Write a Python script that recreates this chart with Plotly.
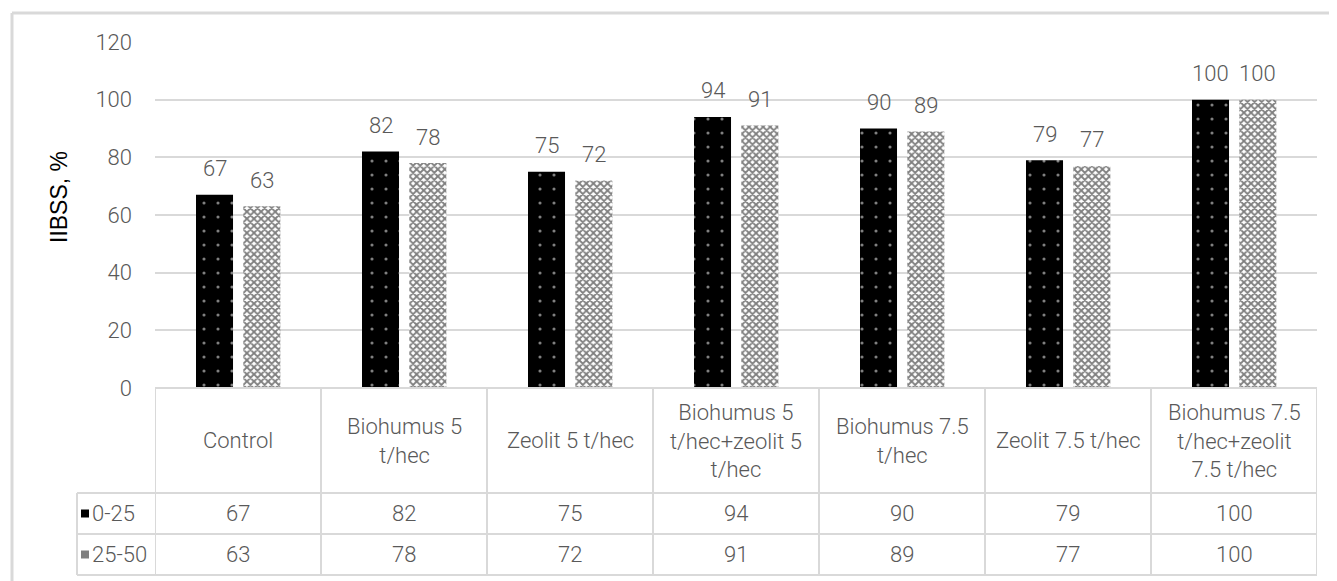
import plotly.graph_objects as go

categories = ["Control", "Biohumus 5<br>t/hec", "Zeolit 5 t/hec",
              "Biohumus 5<br>t/hec+zeolit 5<br>t/hec", "Biohumus 7.5<br>t/hec",
              "Zeolit 7.5 t/hec", "Biohumus 7.5<br>t/hec+zeolit<br>7.5 t/hec"]
series_names = ["0-25", "25-50"]
values_0_25 = [67, 82, 75, 94, 90, 79, 100]
values_25_50 = [63, 78, 72, 91, 89, 77, 100]
y_ticks = [0, 20, 40, 60, 80, 100, 120]

FONT = "Roboto"
GREY = "#595959"
LINE = "#d9d9d9"
FS = 22
WT = 300

PAGE = 8  # default body margin of the html page
W, H = 1337 - PAGE, 581 - PAGE
L, R, T, B = 155 - PAGE, 1337 - 1317, 42 - PAGE, 581 - 388
PW, PH = W - L - R, H - T - B

def px(x):
    return (x - PAGE - L) / PW

def py(y):
    return (H - B - (y - PAGE)) / PH

def tf(size=FS):
    return dict(family=FONT, size=size, color=GREY, weight=WT)

bar_w = 0.223
offsets = [-0.253, 0.032]
xs = list(range(len(categories)))

fig = go.Figure()
fig.add_trace(go.Bar(
    x=xs, y=values_0_25, name=series_names[0], width=bar_w, offset=offsets[0],
    marker=dict(color="black", line=dict(width=0),
                pattern=dict(shape=".", fgcolor="white", bgcolor="black", size=14, solidity=0.04)),
))
fig.add_trace(go.Bar(
    x=xs, y=values_25_50, name=series_names[1], width=bar_w, offset=offsets[1],
    marker=dict(color="white", line=dict(width=0),
                pattern=dict(shape="x", fgcolor="black", bgcolor="white", size=5, solidity=0.6)),
))

ann = []
shapes = []
for vals, off in [(values_0_25, offsets[0]), (values_25_50, offsets[1])]:
    for i, v in enumerate(vals):
        ann.append(dict(x=i + off + bar_w / 2, y=v, xref="x", yref="y", text=str(v),
                        showarrow=False, xanchor="center", yanchor="middle", yshift=26, font=tf()))

y_top = py(388)
y_hdr = py(493)
y_r1 = py(534)
y_r2 = py(575)
x_leg = px(77)

for i, c in enumerate(categories):
    ann.append(dict(x=i, y=(y_top + y_hdr) / 2, xref="x", yref="paper", text=c, showarrow=False,
                    align="center", xanchor="center", yanchor="middle", font=tf()))
    ann.append(dict(x=i, y=(y_hdr + y_r1) / 2, xref="x", yref="paper", text=str(values_0_25[i]),
                    showarrow=False, xanchor="center", yanchor="middle", font=tf()))
    ann.append(dict(x=i, y=(y_r1 + y_r2) / 2, xref="x", yref="paper", text=str(values_25_50[i]),
                    showarrow=False, xanchor="center", yanchor="middle", font=tf()))

for name, (ya, yb) in zip(series_names, [(y_hdr, y_r1), (y_r1, y_r2)]):
    ann.append(dict(x=px(90), y=(ya + yb) / 2, xref="paper", yref="paper", text=name, showarrow=False,
                    xanchor="left", yanchor="middle", font=tf()))
sq = 8
for col, (ya, yb) in zip(["black", "#7f7f7f"], [(y_hdr, y_r1), (y_r1, y_r2)]):
    yc = (ya + yb) / 2
    shapes.append(dict(type="rect", xref="paper", yref="paper",
                       x0=px(81), x1=px(81 + sq), y0=yc - (sq / 2) / PH, y1=yc + (sq / 2) / PH,
                       fillcolor=col, line=dict(width=0)))

lw = 2
for i in range(len(categories) + 1):
    shapes.append(dict(type="line", xref="x", yref="paper", x0=i - 0.5, x1=i - 0.5,
                       y0=y_top, y1=y_r2, line=dict(color=LINE, width=lw)))
shapes.append(dict(type="line", xref="paper", yref="paper", x0=x_leg, x1=x_leg,
                   y0=y_hdr, y1=y_r2, line=dict(color=LINE, width=lw)))
shapes.append(dict(type="line", xref="paper", yref="paper", x0=0, x1=1,
                   y0=y_top, y1=y_top, line=dict(color=LINE, width=lw)))
for yy in [y_hdr, y_r1, y_r2]:
    shapes.append(dict(type="line", xref="paper", yref="paper", x0=x_leg, x1=1,
                       y0=yy, y1=yy, line=dict(color=LINE, width=lw)))

shapes.append(dict(type="line", xref="paper", yref="paper", x0=px(12), x1=px(12),
                   y0=py(600), y1=py(13), line=dict(color=LINE, width=3)))
shapes.append(dict(type="line", xref="paper", yref="paper", x0=px(12), x1=px(1360),
                   y0=py(13), y1=py(13), line=dict(color=LINE, width=3)))

ann.append(dict(x=px(59), y=py(197), xref="paper", yref="paper", text="IIBSS, %", textangle=-90,
                showarrow=False, xanchor="center", yanchor="middle",
                font=dict(family="Liberation Sans", size=23, color="black")))

fig.update_layout(
    width=W, height=H, margin=dict(l=L, r=R, t=T, b=B, autoexpand=False),
    paper_bgcolor="white", plot_bgcolor="white",
    showlegend=False, barmode="overlay",
    annotations=ann, shapes=shapes,
    xaxis=dict(range=[-0.5, len(categories) - 0.5], showticklabels=False, showgrid=False,
               zeroline=False, showline=False, ticks=""),
    yaxis=dict(range=[0, 120], tickvals=y_ticks, showgrid=True, gridcolor=LINE, gridwidth=1.5,
               zeroline=False, showline=False, ticks="", ticklabelstandoff=22,
               tickfont=tf()),
)

fig.write_html("out.html")
